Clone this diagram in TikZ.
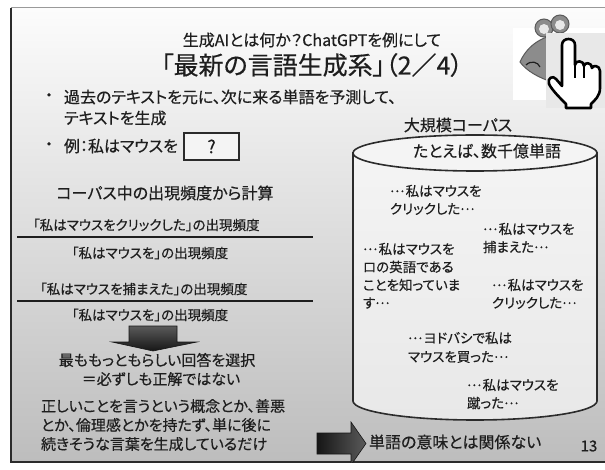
\documentclass[tikz,border=0pt]{standalone}
\usepackage{fontspec}
\setmainfont{Noto Sans CJK JP}[RawFeature=+palt, FakeBold=0.4]
\usetikzlibrary{positioning}

\definecolor{c1e1e1e}{RGB}{30,30,30}
\definecolor{c2b2b2b}{RGB}{43,43,43}
\definecolor{cfcfcfc}{RGB}{252,252,252}
\definecolor{cbdbdbd}{RGB}{189,189,189}
\definecolor{cf4f4f4}{RGB}{244,244,244}
\definecolor{ce8e8e8}{RGB}{232,232,232}
\definecolor{c9a9a9a}{RGB}{154,154,154}
\definecolor{c5a5a5a}{RGB}{90,90,90}
\definecolor{c161616}{RGB}{22,22,22}
\definecolor{c8c8c8c}{RGB}{140,140,140}

% ellipsis set at mid height
\newcommand{\cdotsjp}{\raisebox{0.3em}{…}\hspace{0.1em}}

\begin{document}
\begin{tikzpicture}[y=1pt, x=1pt, yscale=-1, inner sep=0pt, outer sep=0pt,
  txt/.style={text=c1e1e1e, font=\fontsize{13.5}{16}\selectfont},
  txtl/.style={text=c1e1e1e, font=\fontsize{15}{18}\selectfont},
  txtb/.style={text=c1e1e1e, font=\fontsize{16}{19}\selectfont},
  blk/.style={draw=c161616, line width=0.6pt}]
\useasboundingbox (0,0) rectangle (605,470);

% slide background and frame
\path[fill=white] (0,0) rectangle (605,470);
\path[top color=cfcfcfc, bottom color=cbdbdbd] (11,8) rectangle (606,462);
\draw[c9a9a9a, line width=1pt] (11,8) -- (606,8);
\draw[c2b2b2b, line width=1.2pt] (11,8) -- (11,462) -- (606,462);

% title
\path (312,40) node[txtb] (text101) {生成AIとは何か？ChatGPTを例にして};
\path (312,65) node[text=c1e1e1e, font=\fontsize{25}{29}\selectfont] (text102)
  {「最新の言語生成系」（2／4）};

% mouse with hand cursor
\path[fill=white] (513,28) rectangle (605,100);
\path[fill=c8c8c8c, draw=c5a5a5a, line width=1pt] (520,62) .. controls (528,44)
  and (545,34) .. (565,34) -- (600,38) -- (600,88) .. controls (570,90) and
  (533,80) .. (520,62) -- cycle;
\path[fill=c8c8c8c, draw=c5a5a5a, line width=1pt] (544,28) circle (9);
\path[fill=c8c8c8c, draw=c5a5a5a, line width=1pt] (560,24) circle (9);
\path[fill=ce8e8e8] (544,29) circle (5);
\path[fill=ce8e8e8] (560,25) circle (5);
\draw[c1e1e1e, line width=1.2pt] (526,65) .. controls (531,60) and (538,62)
  .. (540,67);
\path[fill=ce8e8e8] (546,33) rectangle (605,108);
\path[fill=white, draw=black, line width=2.6pt, line join=round] (562,80) --
  (562,45) .. controls (562,37) and (575,37) .. (575,45) -- (575,65) .. controls
  (575,60) and (584,60) .. (584,66) .. controls (584,62) and (592,62) ..
  (592,68) .. controls (592,65) and (600,65) .. (600,71) -- (600,88) .. controls
  (600,96) and (595,100) .. (591,104) -- (591,108) -- (566,108) -- (566,104) ..
  controls (560,98) and (552,90) .. (549,84) .. controls (547,78) and (553,75) ..
  (556,79) -- (562,86) -- cycle;
\draw[black, line width=1.2pt] (575,65) -- (575,78) (584,66) -- (584,78);

% bullets
\path (49,97) node[txtb] (text103) {・};
\path (64,97) node[right, txtb] (text104) {過去のテキストを元に、次に来る単語を予測して、};
\path (64,118) node[right, txtb] (text105) {テキストを生成};
\path (49,146) node[txtb] (text106) {・};
\path (64,146) node[right, txtb] (text107) {例：私はマウスを};
\path (211.5,146.5) node[draw=c2b2b2b, fill=cf4f4f4, line width=1.4pt,
  minimum width=55, minimum height=27, txtb, font=\fontsize{18}{20}\selectfont]
  (qbox) {?};

% frequency ratios
\path (165,193) node[txtb] (text108) {コーパス中の出現頻度から計算};
\path (33,225) node[right, txt] (text109) {「私はマウスをクリックした」の出現頻度};
\draw[c1e1e1e, line width=1.2pt] (17,237) -- (313,237);
\path (150,253) node[txt] (text110) {「私はマウスを」の出現頻度};
\path (40,289) node[right, txt] (text111) {「私はマウスを捕まえた」の出現頻度};
\draw[c1e1e1e, line width=1.2pt] (17,301) -- (313,301);
\path (150,315) node[txt] (text112) {「私はマウスを」の出現頻度};
\path[blk, top color=c5a5a5a, bottom color=c161616] (129,326) -- (177,326) --
  (177,342) -- (197,342) -- (153,351) -- (112,342) -- (129,342) -- cycle;
\path (157,360) node[txtl] (text113) {最ももっともらしい回答を選択};
\path (161,379) node[txtl] (text114) {＝必ずしも正解ではない};
\path (41,406) node[right, txtl] (text115) {正しいことを言うという概念とか、善悪};
\path (41,425) node[right, txtl] (text116) {とか、倫理感とかを持たず、単に後に};
\path (41,444) node[right, txtl] (text117) {続きそうな言葉を生成しているだけ};

% corpus cylinder
\path[draw=c2b2b2b, line width=1.6pt, top color=cf4f4f4, bottom color=ce8e8e8]
  (353,153) -- (353,401) arc[start angle=180, end angle=0, x radius=122,
  y radius=19] -- (597,153) -- cycle;
\path[draw=c2b2b2b, line width=1.6pt, fill=cf4f4f4] (475,153) ellipse
  [x radius=122, y radius=18];
\path (458,125) node[txtb] (text118) {大規模コーパス};
\path (487,151) node[txtb] (text119) {たとえば、数千億単語};
\path (390,191) node[right, txt] (text120) {\cdotsjp 私はマウスを};
\path (390,209) node[right, txt] (text121) {クリックした\cdotsjp};
\path (483,229) node[right, txt] (text122) {\cdotsjp 私はマウスを};
\path (483,247) node[right, txt] (text123) {捕まえた\cdotsjp};
\path (363,249) node[right, txt] (text124) {\cdotsjp 私はマウスを};
\path (363,267) node[right, txt] (text125) {ロの英語である};
\path (363,285) node[right, txt] (text126) {ことを知っていま};
\path (363,303) node[right, txt] (text127) {す\cdotsjp};
\path (492,285) node[right, txt] (text128) {\cdotsjp 私はマウスを};
\path (492,303) node[right, txt] (text129) {クリックした\cdotsjp};
\path (408,338) node[right, txt] (text130) {\cdotsjp ヨドバシで私は};
\path (408,357) node[right, txt] (text131) {マウスを買った\cdotsjp};
\path (467,385) node[right, txt] (text132) {\cdotsjp 私はマウスを};
\path (467,403) node[right, txt] (text133) {蹴った\cdotsjp};

% closing arrow and page number
\begin{scope}
  \clip (11,8) rectangle (606,462);
  \path[blk, left color=c161616, right color=c5a5a5a] (317,433) -- (351,433) --
    (351,422) -- (366,443.5) -- (351,465) -- (351,454) -- (317,454) -- cycle;
\end{scope}
\path (369,442) node[right, txtb] (text134) {単語の意味とは関係ない};
\path (589,446) node[txtl] (text135) {13};
\end{tikzpicture}
\end{document}
